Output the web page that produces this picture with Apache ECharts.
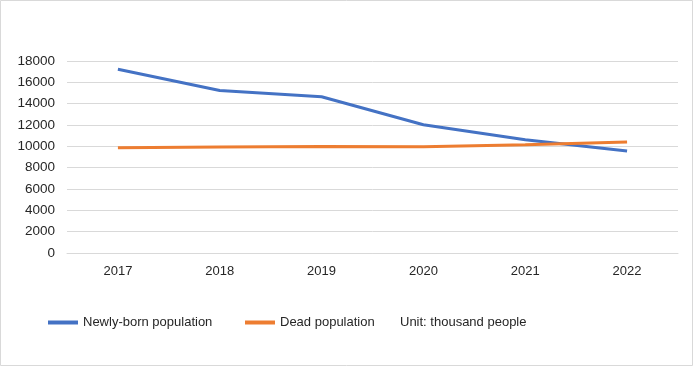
<!DOCTYPE html>
<html><head><meta charset="utf-8">
<script src="https://cdn.jsdelivr.net/npm/echarts@6/dist/echarts.min.js"></script>
<style>html,body{margin:0;padding:0;background:#fff}#c{width:694px;height:367px}</style>
</head><body><div id="c"></div>
<script>
const categories = ['2017','2018','2019','2020','2021','2022'];
const newborn = [17230, 15230, 14650, 12020, 10620, 9560];
const dead = [9860, 9930, 9980, 9970, 10140, 10410];
const yTicks = {min: 0, max: 18000, interval: 2000};

const chart = echarts.init(document.getElementById('c'));
const font = 'Liberation Sans, Arial, sans-serif';
const legendText = {fontSize: 13, fontFamily: font, color: '#262626'};
chart.setOption({
  animation: false,
  backgroundColor: '#fff',
  grid: {left: 67, right: 16, top: 61, bottom: 114},
  graphic: [
    {type: 'rect', shape: {x: 0.5, y: 0.5, width: 692, height: 365}, style: {fill: 'none', stroke: '#d9d9d9', lineWidth: 1}, silent: true},
    {type: 'text', x: 400, y: 322, style: {text: 'Unit: thousand people', font: '13px ' + font, fill: '#262626', textVerticalAlign: 'middle'}}
  ],
  legend: [
    {left: 43, top: 311, itemWidth: 30, itemHeight: 4, icon: 'rect', textStyle: legendText, data: ['Newly-born population']},
    {left: 240, top: 311, itemWidth: 30, itemHeight: 4, icon: 'rect', textStyle: legendText, data: ['Dead population']}
  ],
  xAxis: {
    type: 'category', data: categories, boundaryGap: true,
    axisLine: {lineStyle: {color: '#d9d9d9'}}, axisTick: {show: false},
    axisLabel: {fontSize: 13, fontFamily: font, color: '#262626', margin: 12}
  },
  yAxis: {
    type: 'value', min: yTicks.min, max: yTicks.max, interval: yTicks.interval,
    axisLine: {show: false}, axisTick: {show: false},
    axisLabel: {fontSize: 13.5, fontFamily: font, color: '#262626', margin: 12, formatter: v => String(v)},
    splitLine: {lineStyle: {color: '#d9d9d9'}}
  },
  series: [
    {name: 'Newly-born population', type: 'line', data: newborn, symbol: 'none', lineStyle: {width: 3, color: '#4472c4'}, itemStyle: {color: '#4472c4'}},
    {name: 'Dead population', type: 'line', data: dead, symbol: 'none', lineStyle: {width: 3, color: '#ed7d31'}, itemStyle: {color: '#ed7d31'}}
  ]
});
</script></body></html>
